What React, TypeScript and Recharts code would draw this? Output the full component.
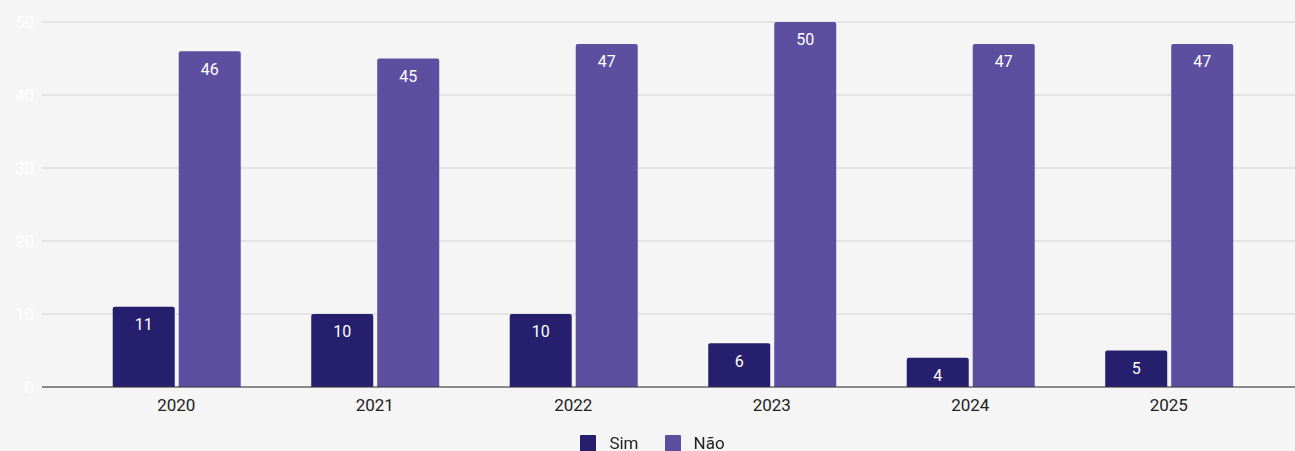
import { BarChart, Bar, XAxis, YAxis, CartesianGrid, Legend, LabelList } from "recharts";

const years = ["2020", "2021", "2022", "2023", "2024", "2025"];
const sim = [11, 10, 10, 6, 4, 5];
const nao = [46, 45, 47, 50, 47, 47];
const yTicks = [0, 10, 20, 30, 40, 50];
const seriesNames = ["Sim", "Não"];

const SIM_COL = "#261f6e";
const NAO_COL = "#5c4f9f";
const COLORS = [SIM_COL, NAO_COL];
const FONT = "Roboto, Inter, sans-serif";

const data = years.map((y, i) => ({ year: y, Sim: sim[i], "Não": nao[i] }));

// legend in series order (recharts sorts it by name otherwise)
function LegendBox() {
  return (
    <div style={{ display: "flex", justifyContent: "center", gap: 26, fontSize: 17, fontFamily: FONT, color: "#222", paddingLeft: 10 }}>
      {seriesNames.map((n, i) => (
        <span key={n} style={{ display: "flex", alignItems: "center", gap: 13 }}>
          <span style={{ width: 16, height: 17, background: COLORS[i], borderRadius: 1, display: "inline-block" }} />
          {n}
        </span>
      ))}
    </div>
  );
}

export default function App() {
  return (
    <div style={{ position: "fixed", left: 0, top: 0, width: 1295, height: 451, background: "#f5f5f5", fontFamily: FONT }}>
      <BarChart
        width={1295}
        height={451}
        data={data}
        margin={{ top: 22, right: 0, left: 0, bottom: 0 }}
        barCategoryGap="18%"
        barGap={4}
      >
        <CartesianGrid vertical={false} stroke="#d2d2d2" strokeWidth={1} />
        <XAxis
          dataKey="year"
          padding={{ left: 35, right: 27 }}
          axisLine={{ stroke: "#333" }}
          tickLine={false}
          tick={{ fill: "#222", fontSize: 17, fontFamily: FONT }}
          tickMargin={6}
          height={30}
        />
        <YAxis
          domain={[0, 50]}
          ticks={yTicks}
          axisLine={false}
          tickLine={false}
          width={42}
          tick={{ fill: "#ffffff", fontSize: 17, fontFamily: FONT }}
        />
        <Legend
          verticalAlign="bottom"
          height={34}
          content={<LegendBox />}
          wrapperStyle={{ bottom: -16 }}
        />
        <Bar dataKey="Sim" fill={SIM_COL} radius={[2, 2, 0, 0]} isAnimationActive={false}>
          <LabelList dataKey="Sim" position="insideTop" offset={12} fill="#fff" fontSize={16} fontFamily={FONT} />
        </Bar>
        <Bar dataKey="Não" fill={NAO_COL} radius={[2, 2, 0, 0]} isAnimationActive={false}>
          <LabelList dataKey="Não" position="insideTop" offset={12} fill="#fff" fontSize={16} fontFamily={FONT} />
        </Bar>
      </BarChart>
    </div>
  );
}
